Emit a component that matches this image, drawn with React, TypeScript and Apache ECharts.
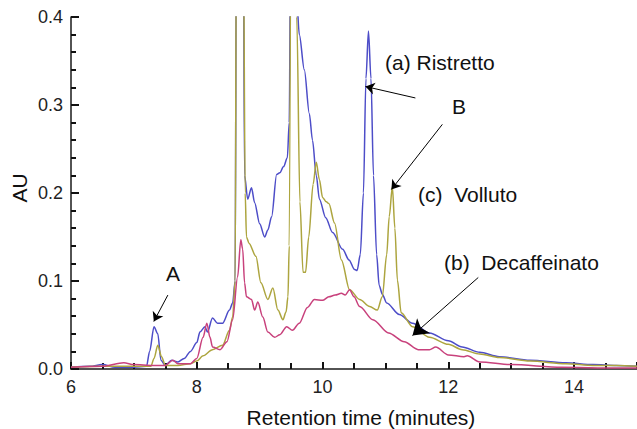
import React, { useEffect, useRef } from "react";
import * as echarts from "echarts";

// Retention time (min), absorbance (AU)
const ristretto: number[][] = [
  [6.0, 0.002], [6.3, 0.003], [6.5, 0.005], [6.7, 0.002], [7.0, 0.002], [7.2, 0.003],
  [7.25, 0.02], [7.32, 0.048], [7.38, 0.04], [7.43, 0.01], [7.5, 0.004], [7.6, 0.01],
  [7.7, 0.008], [7.8, 0.012], [7.9, 0.02], [8.0, 0.03], [8.05, 0.042], [8.13, 0.048],
  [8.17, 0.042], [8.25, 0.058], [8.33, 0.052], [8.41, 0.052], [8.52, 0.067], [8.57, 0.075],
  [8.61, 0.1], [8.63, 0.5], [8.685, 1.2], [8.74, 0.5], [8.76, 0.22], [8.81, 0.193],
  [8.87, 0.206], [8.92, 0.189], [9.0, 0.165], [9.08, 0.15], [9.13, 0.158], [9.19, 0.173],
  [9.27, 0.221], [9.32, 0.223], [9.38, 0.23], [9.44, 0.24], [9.47, 0.28], [9.5, 0.6],
  [9.54, 1.2], [9.59, 0.42], [9.63, 0.38], [9.71, 0.34], [9.79, 0.29], [9.84, 0.26],
  [9.9, 0.22], [9.95, 0.193], [10.05, 0.172], [10.16, 0.155], [10.32, 0.136], [10.42, 0.124],
  [10.51, 0.113], [10.55, 0.112], [10.6, 0.13], [10.65, 0.2], [10.69, 0.33], [10.73, 0.384],
  [10.77, 0.33], [10.81, 0.22], [10.86, 0.13], [10.9, 0.095], [10.95, 0.085], [11.02, 0.075],
  [11.22, 0.062], [11.43, 0.052], [11.7, 0.041], [12.0, 0.032], [12.22, 0.025], [12.5, 0.019],
  [12.81, 0.014], [13.3, 0.01], [13.87, 0.007], [14.3, 0.005], [14.67, 0.004], [15.0, 0.003],
];

const volluto: number[][] = [
  [6.0, 0.002], [6.5, 0.003], [7.0, 0.003], [7.27, 0.003], [7.32, 0.012], [7.38, 0.027],
  [7.44, 0.014], [7.5, 0.004], [7.7, 0.004], [7.9, 0.006], [8.0, 0.009], [8.1, 0.015],
  [8.25, 0.022], [8.41, 0.027], [8.52, 0.044], [8.57, 0.059], [8.61, 0.1], [8.63, 0.5],
  [8.69, 1.2], [8.74, 0.5], [8.77, 0.2], [8.79, 0.15], [8.83, 0.143], [8.94, 0.128],
  [9.02, 0.098], [9.13, 0.079], [9.21, 0.092], [9.29, 0.067], [9.37, 0.056], [9.42, 0.065],
  [9.45, 0.082], [9.47, 0.14], [9.53, 1.2], [9.59, 0.4], [9.64, 0.19], [9.69, 0.11],
  [9.73, 0.11], [9.78, 0.15], [9.85, 0.21], [9.9, 0.235], [9.95, 0.215], [10.0, 0.195],
  [10.06, 0.19], [10.1, 0.188], [10.19, 0.166], [10.3, 0.124], [10.43, 0.09], [10.59, 0.079],
  [10.75, 0.071], [10.87, 0.067], [10.95, 0.082], [11.02, 0.13], [11.06, 0.173], [11.11, 0.207],
  [11.15, 0.16], [11.19, 0.101], [11.25, 0.064], [11.43, 0.048], [11.7, 0.036], [12.0, 0.028],
  [12.22, 0.022], [12.5, 0.017], [12.81, 0.013], [13.3, 0.009], [13.87, 0.006], [14.3, 0.004],
  [14.67, 0.004], [15.0, 0.003],
];

const decaffeinato: number[][] = [
  [6.0, 0.002], [6.5, 0.003], [6.84, 0.007], [7.0, 0.005], [7.3, 0.004], [7.5, 0.004],
  [7.62, 0.01], [7.7, 0.006], [7.9, 0.006], [8.0, 0.012], [8.1, 0.036], [8.16, 0.052],
  [8.21, 0.036], [8.25, 0.025], [8.37, 0.022], [8.48, 0.031], [8.57, 0.056], [8.65, 0.105],
  [8.7, 0.147], [8.73, 0.136], [8.76, 0.098], [8.79, 0.082], [8.87, 0.079], [8.92, 0.067],
  [8.97, 0.076], [9.05, 0.059], [9.13, 0.042], [9.24, 0.036], [9.32, 0.039], [9.43, 0.048],
  [9.52, 0.044], [9.63, 0.052], [9.76, 0.07], [9.87, 0.079], [10.0, 0.078], [10.1, 0.082],
  [10.2, 0.084], [10.3, 0.086], [10.36, 0.084], [10.43, 0.09], [10.5, 0.082], [10.59, 0.071],
  [10.8, 0.056], [11.05, 0.041], [11.3, 0.031], [11.52, 0.022], [11.7, 0.022], [11.8, 0.025],
  [12.0, 0.016], [12.25, 0.014], [12.3, 0.015], [12.5, 0.008], [13.0, 0.005], [13.8, 0.002],
  [14.67, 0.001], [15.0, 0.001],
];

// Annotation arrows: [from, to] in data coordinates
const arrowA = [[7.54, 0.084], [7.317, 0.054]];
const arrowRistretto = [[11.476, 0.308], [10.683, 0.321]];
const arrowB = [[11.905, 0.278], [11.095, 0.204]];
const arrowDecaf = [[12.476, 0.104], [11.43, 0.038]];

const FONT = '"Liberation Sans", Arial, Helvetica, sans-serif';

export default function App() {
  const ref = useRef<HTMLDivElement>(null);
  useEffect(() => {
    if (!ref.current) return;
    const chart = echarts.init(ref.current, undefined, { renderer: "svg" });
    const mk = (a: number[][], size: number) => [
      { coord: a[0], symbol: "none" },
      { coord: a[1], symbol: "arrow", symbolSize: size },
    ];
    const lineSeries = (name: string, data: number[][], color: string) => ({
      type: "line",
      name,
      data,
      showSymbol: false,
      symbol: "none",
      smooth: 0.3,
      smoothMonotone: "x",
      clip: true,
      lineStyle: { color, width: 1.5 },
      emphasis: { disabled: true },
    });
    const text = (t: string, x: number, y: number) => ({
      type: "text",
      style: {
        text: t,
        x,
        y,
        fill: "#111",
        font: `21px ${FONT}`,
        align: "left",
        verticalAlign: "middle",
      },
    });
    const tickLine = { color: "#111", width: 2 };
    chart.setOption({
      animation: false,
      grid: { left: 71, right: 0, top: 17, bottom: 60 },
      xAxis: {
        type: "value",
        min: 6,
        max: 15,
        interval: 2,
        axisLine: { show: true, lineStyle: { color: "#1a1a1a", width: 1.5 } },
        axisTick: { show: true, inside: true, length: 7, lineStyle: tickLine },
        minorTick: { show: true, splitNumber: 4, length: 6, lineStyle: tickLine },
        splitLine: { show: false },
        axisLabel: {
          color: "#222",
          fontSize: 18,
          fontFamily: FONT,
          margin: 9,
          showMaxLabel: false,
          formatter: (v: number) => (v === 15 ? "" : String(v)),
        },
      },
      yAxis: {
        type: "value",
        min: 0,
        max: 0.4,
        interval: 0.1,
        axisLine: { show: true, lineStyle: { color: "#1a1a1a", width: 1.5 } },
        axisTick: { show: true, inside: true, length: 8, lineStyle: tickLine },
        minorTick: { show: true, splitNumber: 5, length: 5, lineStyle: tickLine },
        splitLine: { show: false },
        axisLabel: {
          color: "#222",
          fontSize: 18,
          fontFamily: FONT,
          margin: 8,
          formatter: (v: number) => v.toFixed(1),
        },
      },
      series: [
        lineSeries("(a) Ristretto", ristretto, "#4d4dc8"),
        lineSeries("(c) Volluto", volluto, "#ada53f"),
        {
          ...lineSeries("(b) Decaffeinato", decaffeinato, "#c8417c"),
          markLine: {
            silent: true,
            animation: false,
            label: { show: false },
            emphasis: { disabled: true },
            lineStyle: { color: "#000", width: 1, type: "solid" },
            symbol: ["none", "arrow"],
            data: [
              mk(arrowA, 9),
              mk(arrowRistretto, 9),
              mk(arrowB, 9),
              mk(arrowDecaf, 15),
            ],
          },
        },
      ],
      graphic: [
        text("(a) Ristretto", 385, 62),
        text("B", 452, 106),
        text("(c)  Volluto", 418, 194),
        text("(b)  Decaffeinato", 444, 262),
        text("A", 166, 273),
        {
          type: "text",
          style: {
            text: "Retention time (minutes)",
            x: 361,
            y: 417,
            fill: "#111",
            font: `21px ${FONT}`,
            align: "center",
            verticalAlign: "middle",
          },
        },
        {
          type: "text",
          x: 19,
          y: 188,
          rotation: Math.PI / 2,
          style: {
            text: "AU",
            x: 0,
            y: 0,
            fill: "#111",
            font: `21px ${FONT}`,
            align: "center",
            verticalAlign: "middle",
          },
        },
      ],
    });
    return () => chart.dispose();
  }, []);
  return (
    <div
      ref={ref}
      style={{ position: "absolute", left: 0, top: 0, width: 637, height: 429, background: "#fff" }}
    />
  );
}
